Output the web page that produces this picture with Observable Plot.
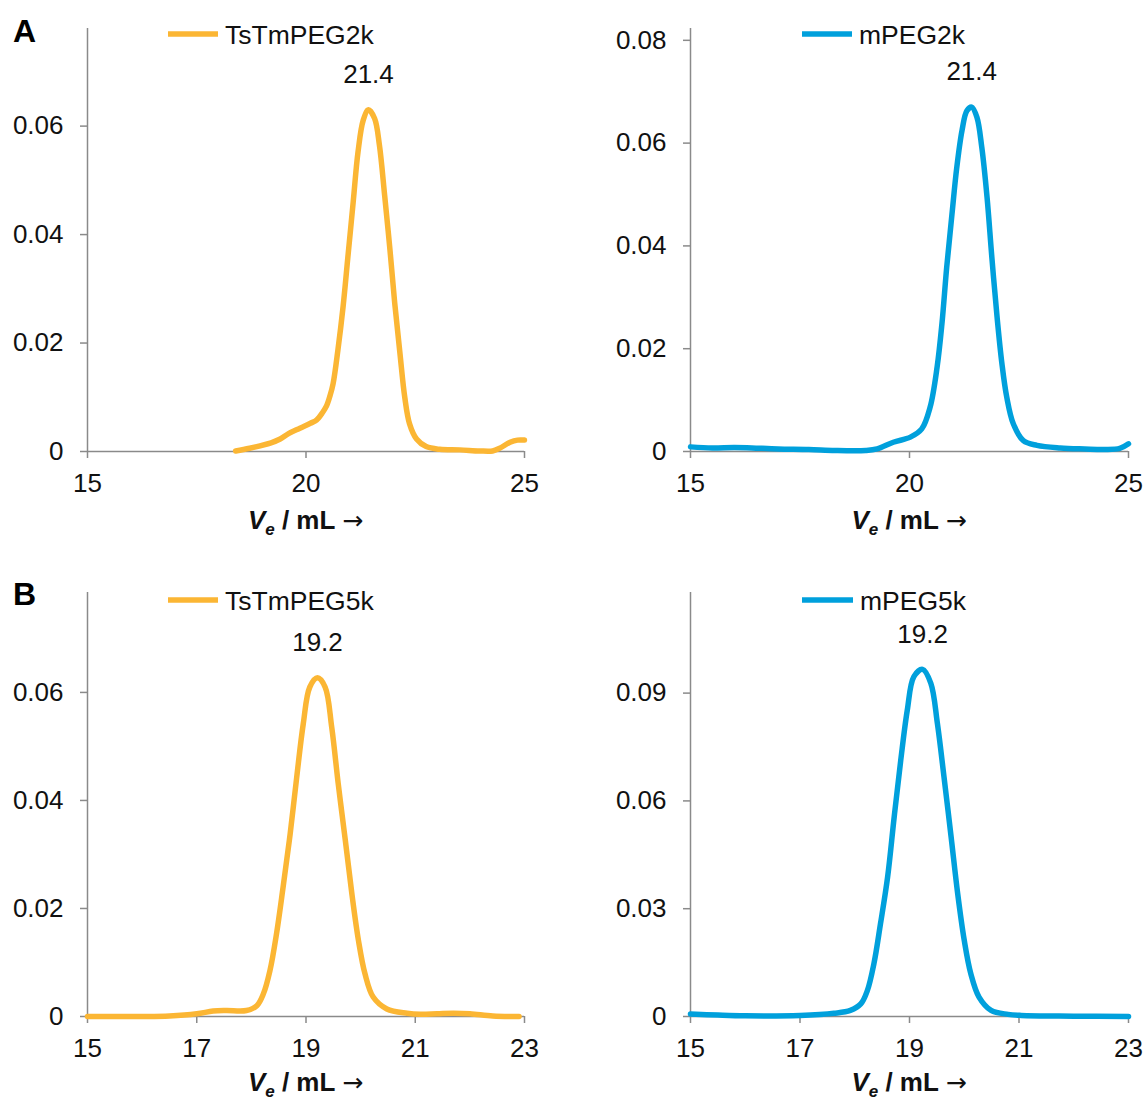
<!DOCTYPE html>
<html><head><meta charset="utf-8">
<script src="https://cdn.jsdelivr.net/npm/d3@7"></script>
<script src="https://cdn.jsdelivr.net/npm/@observablehq/plot@0.6"></script>
<style>
body{margin:0;background:#fff;}
#root{position:relative;width:1147px;height:1102px;overflow:hidden;background:#fff;font-family:"Liberation Sans",Arial,sans-serif;}
.panel{position:absolute;}
</style></head><body><div id="root"></div>
<script>
// ---------- data ----------
const orange = "#fbb634";
const blue = "#00a0dc";

// Panel A – TsTmPEG2k
const tstm2kV = [18.39,18.71,19.2,19.41,19.6,19.86,20.1,20.24,20.38,20.47,20.55,20.62,20.73,20.85,20.96,21.08,21.19,21.31,21.43,21.57,21.68,21.8,21.92,22.03,22.15,22.26,22.37,22.53,22.75,23.06,23.52,23.97,24.27,24.43,24.67,24.84,25.0];
const tstm2kS = [0.0001,0.0006,0.0016,0.0023,0.0033,0.0043,0.0052,0.0058,0.0072,0.0084,0.0103,0.0125,0.0187,0.0268,0.036,0.046,0.0552,0.0611,0.063,0.0614,0.0565,0.0472,0.0373,0.0274,0.0181,0.01,0.0051,0.0023,0.0009,0.0004,0.0003,0.0001,0.0001,0.0006,0.0017,0.0021,0.0021];

// Panel A – mPEG2k
const mpeg2kV = [15,15.5,16.0,16.4,17.0,17.7,18.3,19.0,19.26,19.63,20.02,20.28,20.47,20.63,20.74,20.85,20.97,21.08,21.2,21.31,21.42,21.54,21.65,21.77,21.88,22.0,22.11,22.22,22.37,22.6,22.91,23.44,24.0,24.45,24.8,25.0];
const mpeg2kS = [0.0009,0.0007,0.0008,0.0007,0.0005,0.0004,0.0002,0.0002,0.0005,0.0018,0.0028,0.0044,0.0086,0.0164,0.0248,0.0359,0.0462,0.0553,0.0625,0.0663,0.067,0.065,0.0592,0.0495,0.0378,0.0261,0.0171,0.0106,0.0054,0.0021,0.0012,0.0007,0.0005,0.0004,0.0006,0.0015];

// Panel B – TsTmPEG5k
const tstm5kV = [15,16.0,16.5,17.0,17.3,17.54,17.91,18.1,18.22,18.34,18.46,18.58,18.71,18.83,18.95,19.07,19.21,19.35,19.47,19.59,19.72,19.84,19.96,20.08,20.23,20.48,20.85,21.09,21.4,21.7,22.0,22.42,22.9];
const tstm5kS = [0,0,0.0001,0.0005,0.001,0.0011,0.0011,0.002,0.0042,0.0085,0.0153,0.0239,0.0338,0.0443,0.0542,0.061,0.0627,0.061,0.0536,0.0431,0.0326,0.0227,0.0141,0.0079,0.0036,0.0014,0.0006,0.0004,0.0005,0.0006,0.0005,0.0001,0];

// Panel B – mPEG5k
const mpeg5kV = [15,15.5,16.0,17.0,17.62,17.92,18.11,18.23,18.35,18.47,18.6,18.72,18.84,18.96,19.08,19.24,19.39,19.51,19.63,19.76,19.88,20.0,20.12,20.27,20.49,20.8,21.04,22.0,23.0];
const mpeg5kS = [0.0007,0.0004,0.0002,0.0003,0.0009,0.0017,0.0035,0.0072,0.0147,0.0258,0.0388,0.0555,0.0713,0.0853,0.0946,0.0966,0.0927,0.0815,0.0667,0.05,0.0342,0.0212,0.0119,0.0054,0.0017,0.0006,0.0003,0.0001,0];

// axes
const xTicksA = [15,20,25];
const xTicksB = [15,17,19,21,23];
const yTicksTL = [0,0.02,0.04,0.06];
const yTicksTR = [0,0.02,0.04,0.06,0.08];
const yTicksBL = [0,0.02,0.04,0.06];
const yTicksBR = [0,0.03,0.06,0.09];
const seriesNames = ["TsTmPEG2k","mPEG2k","TsTmPEG5k","mPEG5k"];
const peakLabels = ["21.4","21.4","19.2","19.2"];
const panelLetters = ["A","B"];

// ---------- layout ----------
const panels = [
  {left:0,   top:0,   w:573, h:550, mL:87,  mR:49, mT:28, mB:99, xDomain:[15,25], xTicks:xTicksA, yDomain:[0,0.078], yTicks:yTicksTL, V:tstm2kV, S:tstm2kS, color:orange, name:seriesNames[0], peak:peakLabels[0], leg:[168,218,34], titleDy:78, letter:panelLetters[0]},
  {left:573, top:0,   w:574, h:550, mL:117, mR:19, mT:28, mB:99, xDomain:[15,25], xTicks:xTicksA, yDomain:[0,0.0823], yTicks:yTicksTR, V:mpeg2kV, S:mpeg2kS, color:blue, name:seriesNames[1], peak:peakLabels[1], leg:[229,279,34], titleDy:78},
  {left:0,   top:550, w:573, h:552, mL:87,  mR:49, mT:42, mB:86, xDomain:[15,23], xTicks:xTicksB, yDomain:[0,0.0785], yTicks:yTicksBL, V:tstm5kV, S:tstm5kS, color:orange, name:seriesNames[2], peak:peakLabels[2], leg:[168,218,50], titleDy:75, letter:panelLetters[1]},
  {left:573, top:550, w:574, h:552, mL:117, mR:19, mT:42, mB:86, xDomain:[15,23], xTicks:xTicksB, yDomain:[0,0.118], yTicks:yTicksBR, V:mpeg5kV, S:mpeg5kS, color:blue, name:seriesNames[3], peak:peakLabels[3], leg:[229,280,50], titleDy:75}
];

const axisGray = "#8a8a8a";
const textCol = "#111";
const font = "'Liberation Sans', Arial, sans-serif";
const fs = 26;
const root = document.getElementById("root");

for (const p of panels) {
  const data = p.V.map((v, i) => ({v, s: p.S[i]}));
  const peakPt = d3.greatest(data, d => d.s);
  const fmt = d => d === 0 ? "0" : String(d);
  const chart = Plot.plot({
    width: p.w, height: p.h,
    marginLeft: p.mL, marginRight: p.mR, marginTop: p.mT, marginBottom: p.mB,
    style: {fontFamily: font, fontSize: fs + "px", color: textCol, background: "transparent", overflow: "visible"},
    x: {domain: p.xDomain},
    y: {domain: p.yDomain},
    marks: [
      Plot.ruleX([p.xDomain[0]], {stroke: axisGray, strokeWidth: 1.5}),
      Plot.ruleY([0], {stroke: axisGray, strokeWidth: 1.5}),
      Plot.axisX({ticks: p.xTicks, tickSize: 7, tickPadding: 15, stroke: axisGray, strokeWidth: 1.5, fill: textCol, label: null, fontSize: fs}),
      Plot.axisY({ticks: p.yTicks, tickSize: 7, tickPadding: 17, stroke: axisGray, strokeWidth: 1.5, fill: textCol, label: null, tickFormat: fmt, fontSize: fs}),
      Plot.line(data, {x: "v", y: "s", stroke: p.color, strokeWidth: 5.5, curve: "catmull-rom", strokeLinejoin: "round", strokeLinecap: "round"}),
      Plot.text([peakPt], {x: "v", y: "s", text: () => p.peak, dy: -35, fontSize: fs, fill: textCol})
    ]
  });
  const div = document.createElement("div");
  div.className = "panel";
  div.style.left = p.left + "px";
  div.style.top = p.top + "px";
  div.appendChild(chart);
  root.appendChild(div);

  const svg = d3.select(chart);
  // legend
  const [lx0, lx1, ly] = p.leg;
  svg.append("line").attr("x1", lx0).attr("x2", lx1).attr("y1", ly).attr("y2", ly)
     .attr("stroke", p.color).attr("stroke-width", 5.5);
  svg.append("text").attr("x", lx1 + 7).attr("y", ly).attr("dy", "0.36em").attr("text-anchor", "start")
     .attr("font-size", 26.5).attr("fill", textCol).attr("font-family", font).text(p.name);
  // x axis title
  const cx = (p.mL + p.w - p.mR) / 2;
  const ty = p.h - p.mB + p.titleDy;
  const t = svg.append("text").attr("x", cx).attr("y", ty).attr("text-anchor", "middle")
     .attr("font-size", fs).attr("font-weight", "bold").attr("fill", textCol).attr("font-family", font);
  t.append("tspan").attr("font-style", "italic").text("V");
  t.append("tspan").attr("font-style", "italic").attr("font-size", 17).attr("dy", 6).text("e");
  t.append("tspan").attr("dy", -6).text(" / mL ");
  t.append("tspan").attr("font-family", "'DejaVu Sans', sans-serif").attr("font-weight", "normal").attr("font-size", 25).text("\u2192");
  // panel letter
  if (p.letter) {
    svg.append("text").attr("x", 13).attr("y", p.top === 0 ? 42 : 55).attr("text-anchor", "start")
       .attr("font-size", 32).attr("font-weight", "bold").attr("fill", "#000").attr("font-family", font).text(p.letter);
  }
}
</script></body></html>
